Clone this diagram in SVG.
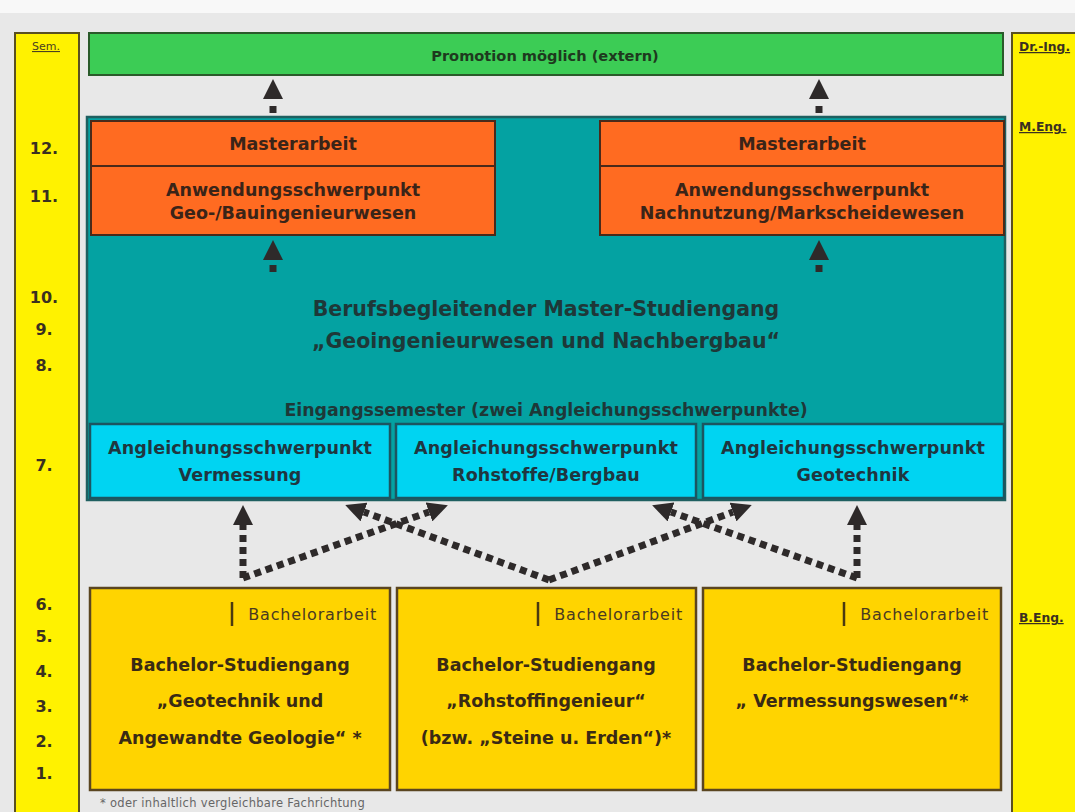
<svg xmlns="http://www.w3.org/2000/svg" width="1075" height="812" viewBox="0 0 1075 812">
<style>
text{font-family:"DejaVu Sans",Verdana,"Liberation Sans",sans-serif;}
.b{font-weight:bold;}
.c{text-anchor:middle;}
.sem{font-size:16px;font-weight:bold;fill:#3a3020;text-anchor:middle;}
.deg{font-size:12.3px;font-weight:bold;fill:#3a3020;text-decoration:underline;}
.ot{font-size:17.5px;font-weight:bold;fill:#3a2418;text-anchor:middle;}
.ct{font-size:17.5px;font-weight:bold;fill:#1f3640;text-anchor:middle;letter-spacing:0.15px;}
.bt{font-size:17.5px;font-weight:bold;fill:#3a2a14;text-anchor:middle;}
.ba{font-size:16px;fill:#4a3a20;text-anchor:end;letter-spacing:0.8px;}
.conn{fill:none;stroke:#2e2a2a;stroke-width:7;stroke-dasharray:7 5;}
.ybar{fill:#fff200;stroke:#5a5020;stroke-width:2;}
.orange{fill:#ff6b21;stroke:#4a2a1a;stroke-width:2;}
.cyan{fill:#00d4f2;stroke:#1c5560;stroke-width:2.5;}
.gold{fill:#ffd400;stroke:#5a4520;stroke-width:2.5;}
</style>
<defs>
<marker id="ah" viewBox="0 -10 20 20" refX="0" refY="0" markerWidth="20" markerHeight="20" markerUnits="userSpaceOnUse" orient="auto">
<path d="M0,-10 L20,0 L0,10 Z" fill="#2e2a2a"/>
</marker>
</defs>
<rect x="0" y="0" width="1075" height="812" fill="#e8e8e8"/>
<rect x="0" y="0" width="1075" height="13" fill="#f8f8f8"/>

<g id="sem-bar">
<rect class="ybar" x="15" y="33" width="64" height="790"/>
<text x="46" y="50" style="font-size:11px;fill:#4a4020;text-decoration:underline;" class="c">Sem.</text>
<text class="sem" x="44" y="154">12.</text>
<text class="sem" x="44" y="202">11.</text>
<text class="sem" x="44" y="303">10.</text>
<text class="sem" x="44" y="335">9.</text>
<text class="sem" x="44" y="371">8.</text>
<text class="sem" x="44" y="471">7.</text>
<text class="sem" x="44" y="610">6.</text>
<text class="sem" x="44" y="642">5.</text>
<text class="sem" x="44" y="677">4.</text>
<text class="sem" x="44" y="712">3.</text>
<text class="sem" x="44" y="747">2.</text>
<text class="sem" x="44" y="779">1.</text>
</g>

<g id="degree-bar">
<rect class="ybar" x="1012" y="33" width="80" height="790"/>
<text class="deg" x="1019" y="51">Dr.-Ing.</text>
<text class="deg" x="1019" y="131">M.Eng.</text>
<text class="deg" x="1019" y="622">B.Eng.</text>
</g>

<g id="promotion">
<rect x="89" y="33" width="914" height="42" fill="#3ccc55" stroke="#2a5a2a" stroke-width="2"/>
<text class="b c" x="545" y="61" style="font-size:14.6px;fill:#1e3a1e;">Promotion möglich (extern)</text>
</g>

<g id="master">
<rect x="87" y="117" width="918" height="383" fill="#04a2a2" stroke="#1f5f60" stroke-width="2.5"/>
<text class="b c" x="546" y="316" style="font-size:20.5px;fill:#1e3838;">Berufsbegleitender Master-Studiengang</text>
<text class="b c" x="546" y="348" style="font-size:20.5px;fill:#1e3838;">„Geoingenieurwesen und Nachbergbau“</text>
<text class="b c" x="546" y="416" style="font-size:17.4px;fill:#1e3838;">Eingangssemester (zwei Angleichungsschwerpunkte)</text>
</g>

<g id="master-left">
<rect class="orange" x="91" y="121" width="404" height="114"/>
<line x1="91" y1="166" x2="495" y2="166" stroke="#4a2a1a" stroke-width="2"/>
<text class="ot" x="293" y="150">Masterarbeit</text>
<text class="ot" x="293" y="196">Anwendungsschwerpunkt</text>
<text class="ot" x="293" y="219">Geo-/Bauingenieurwesen</text>
</g>

<g id="master-right">
<rect class="orange" x="600" y="121" width="404" height="114"/>
<line x1="600" y1="166" x2="1004" y2="166" stroke="#4a2a1a" stroke-width="2"/>
<text class="ot" x="802" y="150">Masterarbeit</text>
<text class="ot" x="802" y="196">Anwendungsschwerpunkt</text>
<text class="ot" x="802" y="219">Nachnutzung/Markscheidewesen</text>
</g>

<g id="angl-vermessung">
<rect class="cyan" x="90" y="424" width="300" height="74"/>
<text class="ct" x="240" y="454">Angleichungsschwerpunkt</text>
<text class="ct" x="240" y="481">Vermessung</text>
</g>
<g id="angl-rohstoffe">
<rect class="cyan" x="396" y="424" width="300" height="74"/>
<text class="ct" x="546" y="454">Angleichungsschwerpunkt</text>
<text class="ct" x="546" y="481">Rohstoffe/Bergbau</text>
</g>
<g id="angl-geotechnik">
<rect class="cyan" x="703" y="424" width="301" height="74"/>
<text class="ct" x="853" y="454">Angleichungsschwerpunkt</text>
<text class="ct" x="853" y="481">Geotechnik</text>
</g>

<g id="bachelor-geotechnik">
<rect class="gold" x="90" y="588" width="300" height="202"/>
<line x1="232" y1="602" x2="232" y2="626" stroke="#4a3a10" stroke-width="2.5"/>
<text class="ba" x="377" y="620">Bachelorarbeit</text>
<text class="bt" x="240" y="671">Bachelor-Studiengang</text>
<text class="bt" x="240" y="707">„Geotechnik und</text>
<text class="bt" x="240" y="744">Angewandte Geologie“ *</text>
</g>
<g id="bachelor-rohstoff">
<rect class="gold" x="397" y="588" width="299" height="202"/>
<line x1="538" y1="602" x2="538" y2="626" stroke="#4a3a10" stroke-width="2.5"/>
<text class="ba" x="683" y="620">Bachelorarbeit</text>
<text class="bt" x="546" y="671">Bachelor-Studiengang</text>
<text class="bt" x="546" y="707">„Rohstoffingenieur“</text>
<text class="bt" x="546" y="744">(bzw. „Steine u. Erden“)*</text>
</g>
<g id="bachelor-vermessung">
<rect class="gold" x="703" y="588" width="298" height="202"/>
<line x1="844" y1="602" x2="844" y2="626" stroke="#4a3a10" stroke-width="2.5"/>
<text class="ba" x="989" y="620">Bachelorarbeit</text>
<text class="bt" x="852" y="671">Bachelor-Studiengang</text>
<text class="bt" x="852" y="707">„ Vermessungswesen“*</text>
</g>

<text x="100" y="807" style="font-size:11.5px;fill:#666;letter-spacing:0.3px;">* oder inhaltlich vergleichbare Fachrichtung</text>

<g id="connectors">
<path class="conn" d="M273,113 V99" style="stroke-dasharray:7 30" marker-end="url(#ah)"/>
<path class="conn" d="M819,113 V99" style="stroke-dasharray:7 30" marker-end="url(#ah)"/>
<path class="conn" d="M273,272 V260" style="stroke-dasharray:7 30" marker-end="url(#ah)"/>
<path class="conn" d="M819,272 V260" style="stroke-dasharray:7 30" marker-end="url(#ah)"/>
<path class="conn" d="M243,578 V525" marker-end="url(#ah)"/>
<path class="conn" d="M243,578 L429,512" marker-end="url(#ah)"/>
<path class="conn" d="M549,580 L364,512" marker-end="url(#ah)"/>
<path class="conn" d="M549,580 L733,512" marker-end="url(#ah)"/>
<path class="conn" d="M857,578 L671,512" marker-end="url(#ah)"/>
<path class="conn" d="M857,578 V525" marker-end="url(#ah)"/>
</g>
</svg>
